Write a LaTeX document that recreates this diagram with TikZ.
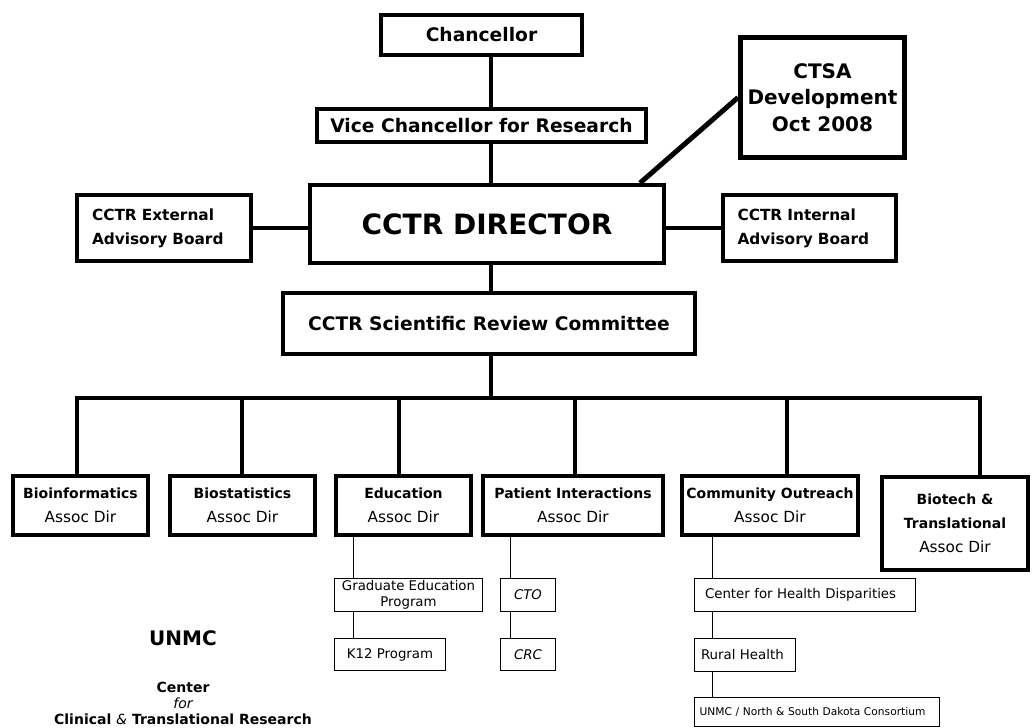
\documentclass[tikz,border=0pt]{standalone}
\usepackage{fontspec}
\setmainfont{DejaVu Sans}
\usepackage{tikz}
\tikzset{every picture/.style={line width=0.75pt}}
\tikzset{
  bigbox/.style={draw, line width=3pt, inner sep=0pt, align=center},
  thinbox/.style={draw, line width=0.75pt, inner sep=0pt, align=center, font=\fontsize{10}{12}\selectfont},
  boxsize/.style 2 args={minimum width=#1*0.75pt, minimum height=#2*0.75pt},
  link/.style={line width=3pt},
  sublink/.style={line width=0.75pt},
}

\begin{document}
\begin{tikzpicture}[x=0.75pt,y=0.75pt,yscale=-1,xscale=1]
\useasboundingbox (0,0) rectangle (1035,728);

% Top of the chart
\node [bigbox, boxsize={201}{40}, font=\bfseries\fontsize{14}{17}\selectfont] (chan) at (481.5,35) {Chancellor};
\node [bigbox, boxsize={329}{33}, font=\bfseries\fontsize{14}{17}\selectfont] (vcr) at (481.5,125.5) {Vice Chancellor for Research};
\node [bigbox, line width=3.75pt, boxsize={164}{120}, font=\bfseries\fontsize{15}{20}\selectfont] (ctsa) at (822.5,97.5) {CTSA\\Development\\Oct 2008};
\node [bigbox, boxsize={354}{78}, font=\bfseries\fontsize{21}{25}\selectfont] (dir) at (487,224) {CCTR DIRECTOR};
\node [bigbox, boxsize={174}{66}, align=left, text width=108pt, font=\bfseries\fontsize{11.5}{18}\selectfont] (ext) at (164,228) {CCTR External\\Advisory Board};
\node [bigbox, boxsize={173}{66}, align=left, text width=108pt, font=\bfseries\fontsize{11.5}{18}\selectfont] (int) at (809.5,228) {CCTR Internal\\Advisory Board};
\node [bigbox, boxsize={412}{61}, font=\bfseries\fontsize{14}{17}\selectfont] (src) at (489,323.5) {CCTR Scientific Review Committee};

% Associate directors
\node [bigbox, boxsize={135}{59}, font=\bfseries\fontsize{10.5}{18}\selectfont] (bioinf) at (80.5,505.5) {Bioinformatics\\\mdseries\fontsize{11.5}{18}\selectfont Assoc Dir};
\node [bigbox, boxsize={145}{59}, font=\bfseries\fontsize{10.5}{18}\selectfont] (biostat) at (242.5,505.5) {Biostatistics\\\mdseries\fontsize{11.5}{18}\selectfont Assoc Dir};
\node [bigbox, boxsize={135}{59}, font=\bfseries\fontsize{10.5}{18}\selectfont] (educ) at (403.5,505.5) {Education\\\mdseries\fontsize{11.5}{18}\selectfont Assoc Dir};
\node [bigbox, boxsize={180}{59}, font=\bfseries\fontsize{10.5}{18}\selectfont] (patient) at (573,505.5) {Patient Interactions\\\mdseries\fontsize{11.5}{18}\selectfont Assoc Dir};
\node [bigbox, boxsize={176}{59}, font=\bfseries\fontsize{10.5}{18}\selectfont] (commun) at (770,505.5) {Community Outreach\\\mdseries\fontsize{11.5}{18}\selectfont Assoc Dir};
\node [bigbox, boxsize={146}{93}, font=\bfseries\fontsize{10.5}{18}\selectfont] (biotech) at (955,523.5) {Biotech \&\\Translational\\\mdseries\fontsize{11.5}{18}\selectfont Assoc Dir};

% Programs
\node [thinbox, boxsize={148}{33}] (grad) at (408.5,595) {Graduate Education\\Program};
\node [thinbox, boxsize={111}{32}] (k12) at (390,654.5) {K12 Program};
\node [thinbox, boxsize={55}{33}, font=\itshape\fontsize{10}{12}\selectfont] (cto) at (528,595) {CTO};
\node [thinbox, boxsize={55}{32}, font=\itshape\fontsize{10}{12}\selectfont] (crc) at (528,654.5) {CRC};
\node [thinbox, boxsize={221}{33}, align=left, text width=150pt] (chd) at (805,595) {Center for Health Disparities};
\node [thinbox, boxsize={101}{33}, align=left, text width=66pt] (rural) at (745,655) {Rural Health};
\node [thinbox, boxsize={245}{29}, align=left, text width=176pt, font=\fontsize{8}{10}\selectfont] (consort) at (817,712) {UNMC / North \& South Dakota Consortium};

% Text Node
\node [font=\bfseries\fontsize{15}{18}\selectfont] (unmc) at (183,638) {UNMC};
% Text Node
\node [align=center, font=\bfseries\fontsize{10.5}{12}\selectfont] (cctrname) at (183,703) {Center\\{\mdseries\itshape for}\\Clinical {\mdseries\itshape \&} Translational Research};

% Straight Lines
\coordinate (spine) at (491,0);
\draw [link] (chan.south -| spine) -- (vcr.north -| spine);
\draw [link] (vcr.south -| spine) -- (dir.north -| spine);
\draw [link, line width=3.75pt] ([xshift=-19.5pt]dir.north east) -- (ctsa.west);
\draw [link] (ext.east) -- (ext.east -| dir.west);
\draw [link] (int.west) -- (int.west -| dir.east);
\draw [link] (dir.south -| spine) -- (src.north -| spine);

% Bus to the associate directors
\coordinate (d1) at (77,398);
\coordinate (d2) at (242,398);
\coordinate (d3) at (399,398);
\coordinate (d4) at (575,398);
\coordinate (d5) at (787,398);
\coordinate (d6) at (980,398);
\draw [link] (src.south -| spine) -- (spine |- d1);
\draw [link] (bioinf.north -| d1) -- (d1) -- (d6) -- (biotech.north -| d6);
\draw [link] (d2) -- (biostat.north -| d2);
\draw [link] (d3) -- (educ.north -| d3);
\draw [link] (d4) -- (patient.north -| d4);
\draw [link] (d5) -- (commun.north -| d5);

% Thin lines to the programs
\coordinate (edsp) at (353,0);
\coordinate (pasp) at (510,0);
\coordinate (cosp) at (712,0);
\draw [sublink] (educ.south -| edsp) -- (grad.north -| edsp);
\draw [sublink] (grad.south -| edsp) -- (k12.north -| edsp);
\draw [sublink] (patient.south -| pasp) -- (cto.north -| pasp);
\draw [sublink] (cto.south -| pasp) -- (crc.north -| pasp);
\draw [sublink] (commun.south -| cosp) -- (chd.north -| cosp);
\draw [sublink] (chd.south -| cosp) -- (rural.north -| cosp);
\draw [sublink] (rural.south -| cosp) -- (consort.north -| cosp);

\end{tikzpicture}
\end{document}
